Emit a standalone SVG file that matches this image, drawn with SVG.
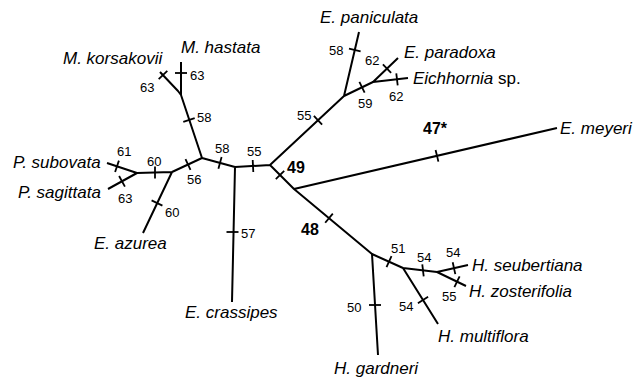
<svg xmlns="http://www.w3.org/2000/svg" width="634" height="381" viewBox="0 0 634 381">
<style>
.br{stroke:#000;stroke-width:2;fill:none;stroke-linecap:butt;stroke-linejoin:round}
.tk{stroke:#000;stroke-width:1.8}
.n{font-family:"Liberation Sans",Arial,sans-serif;font-size:13px;fill:#000}
.b{font-family:"Liberation Sans",Arial,sans-serif;font-size:16px;font-weight:bold;fill:#000}
.sp{font-family:"Liberation Sans",Arial,sans-serif;font-size:17px;font-style:italic;fill:#000}
.up{font-style:normal}
</style>
<rect width="634" height="381" fill="#fff"/>
<g id="connectors">
<path class="br" d="M181,62 L181,95 M160,72 L178,91 L181,95 L202,158 L235,167 L270,165 M202,158 L172,172 L137,173 L107,163 M137,173 L108,189 M172,172 L143,233 M235,167 L232,302 M270,165 L294,189 L557,128 M294,189 L372,254 L378,355 M372,254 L403,268 L438,324 M403,268 L437,272 L468,265 M437,272 L466,286 M270,165 L344,96 L359,32 M344,96 L373,82 L398,58 M373,82 L408,78"/>
<g class="tk">
<line x1="175" y1="73" x2="187" y2="73"/>
<line x1="158.7" y1="79.1" x2="167.3" y2="70.9"/>
<line x1="183.3" y1="121.9" x2="194.7" y2="118.1"/>
<line x1="221.6" y1="157.1" x2="218.4" y2="168.7"/>
<line x1="252.7" y1="160" x2="253.3" y2="172"/>
<line x1="185.5" y1="159.1" x2="190.5" y2="169.9"/>
<line x1="155" y1="166.5" x2="155" y2="178.5"/>
<line x1="118.9" y1="160.6" x2="115.1" y2="172"/>
<line x1="119.1" y1="176" x2="124.9" y2="186.6"/>
<line x1="151.6" y1="200.4" x2="162.4" y2="205.6"/>
<line x1="226.5" y1="232" x2="238.5" y2="232"/>
<line x1="275.8" y1="179.2" x2="284.2" y2="170.8"/>
<line x1="435.6" y1="150" x2="438.4" y2="161.6"/>
<line x1="325.2" y1="222.8" x2="332.8" y2="213.6"/>
<line x1="369" y1="305" x2="381" y2="305"/>
<line x1="391.5" y1="256.2" x2="386.5" y2="267.2"/>
<line x1="417.9" y1="303.2" x2="428.1" y2="296.8"/>
<line x1="422.3" y1="264.4" x2="423.7" y2="276.4"/>
<line x1="452.7" y1="262.3" x2="455.3" y2="274.1"/>
<line x1="454.4" y1="287.1" x2="459.6" y2="276.3"/>
<line x1="313.9" y1="115.8" x2="322.1" y2="124.6"/>
<line x1="349" y1="48.6" x2="360.6" y2="51.4"/>
<line x1="359.4" y1="81.9" x2="364.6" y2="92.7"/>
<line x1="382.9" y1="64.3" x2="391.1" y2="72.9"/>
<line x1="396.3" y1="73.3" x2="397.7" y2="85.3"/>
</g>
<g id="support-values">
<text class="n" x="190" y="80">63</text>
<text class="n" x="140" y="92">63</text>
<text class="n" x="197" y="122">58</text>
<text class="n" x="215" y="153">58</text>
<text class="n" x="247" y="156">55</text>
<text class="n" x="187" y="184">56</text>
<text class="n" x="147" y="166">60</text>
<text class="n" x="117" y="156">61</text>
<text class="n" x="118" y="203">63</text>
<text class="n" x="165" y="217">60</text>
<text class="n" x="241" y="238">57</text>
<text class="b" x="287" y="173">49</text>
<text class="n" x="297" y="120">55</text>
<text class="n" x="329" y="55">58</text>
<text class="n" x="365" y="65">62</text>
<text class="n" x="358" y="108">59</text>
<text class="n" x="389" y="101">62</text>
<text class="b" x="423" y="134">47*</text>
<text class="b" x="301" y="235">48</text>
<text class="n" x="347" y="312">50</text>
<text class="n" x="391" y="253">51</text>
<text class="n" x="399" y="311">54</text>
<text class="n" x="417" y="262">54</text>
<text class="n" x="446" y="257">54</text>
<text class="n" x="442" y="301">55</text>
</g>
</g>
<g id="M-korsakovii"><text class="sp" x="63" y="64">M. korsakovii</text></g>
<g id="M-hastata"><text class="sp" x="181" y="53">M. hastata</text></g>
<g id="P-subovata"><text class="sp" x="13" y="168">P. subovata</text></g>
<g id="P-sagittata"><text class="sp" x="18" y="198">P. sagittata</text></g>
<g id="E-azurea"><text class="sp" x="94" y="249">E. azurea</text></g>
<g id="E-crassipes"><text class="sp" x="185" y="318">E. crassipes</text></g>
<g id="E-paniculata"><text class="sp" x="320" y="23">E. paniculata</text></g>
<g id="E-paradoxa"><text class="sp" x="404" y="58">E. paradoxa</text></g>
<g id="Eichhornia-sp"><text class="sp" x="413" y="84">Eichhornia<tspan class="up"> sp.</tspan></text></g>
<g id="E-meyeri"><text class="sp" x="560" y="134">E. meyeri</text></g>
<g id="H-seubertiana"><text class="sp" x="472" y="271">H. seubertiana</text></g>
<g id="H-zosterifolia"><text class="sp" x="469" y="297">H. zosterifolia</text></g>
<g id="H-multiflora"><text class="sp" x="438" y="342">H. multiflora</text></g>
<g id="H-gardneri"><text class="sp" x="334" y="374">H. gardneri</text></g>
</svg>
